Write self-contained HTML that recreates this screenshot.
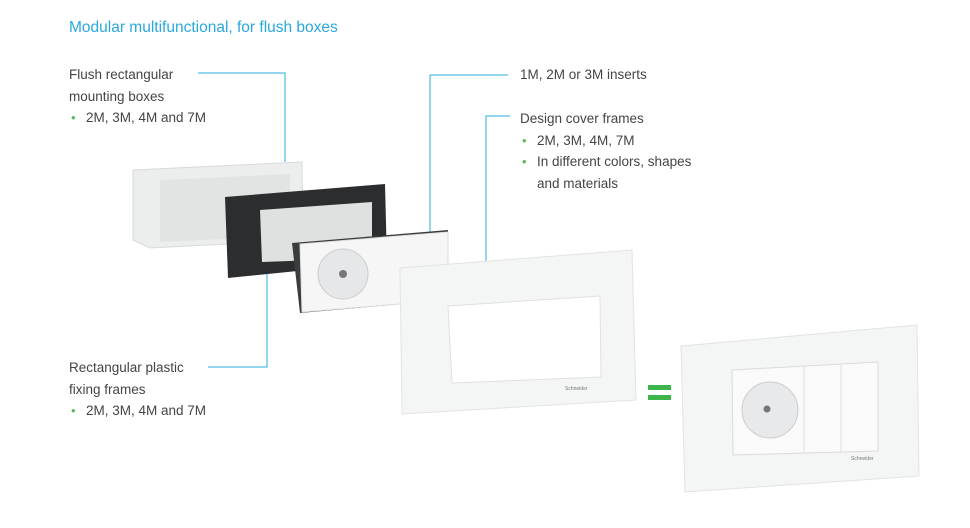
<!DOCTYPE html>
<html><head><style>
body{margin:0;width:970px;height:528px;background:#fff;font-family:"Liberation Sans",sans-serif;position:relative;overflow:hidden}
.t{position:absolute;font-size:13.5px;color:#444;line-height:21.5px;white-space:nowrap}
.t div{height:21.5px}
.g{color:#5cb85c;display:inline-block;width:17px;padding-left:2px;box-sizing:border-box;font-size:13px;line-height:21.5px;vertical-align:top}
</style></head><body>
<div class="t" style="left:69px;top:17px;font-size:15.5px;color:#2aa8dc">Modular multifunctional, for flush boxes</div>
<div class="t" style="left:69px;top:64px"><div>Flush rectangular</div><div>mounting boxes</div><div><span class="g">•</span>2M, 3M, 4M and 7M</div></div>
<div class="t" style="left:520px;top:64px">1M, 2M or 3M inserts</div>
<div class="t" style="left:520px;top:108px"><div>Design cover frames</div><div><span class="g">•</span>2M, 3M, 4M, 7M</div><div><span class="g">•</span>In different colors, shapes</div><div><span style="margin-left:17px">and materials</span></div></div>
<div class="t" style="left:69px;top:357px"><div>Rectangular plastic</div><div>fixing frames</div><div><span class="g">•</span>2M, 3M, 4M and 7M</div></div>
<svg width="970" height="528" style="position:absolute;left:0;top:0">
<g stroke="#29abe2" stroke-width="1" fill="none">
<polyline points="198,73 285,73 285,162"/>
<polyline points="508,75 430,75 430,236"/>
<polyline points="510,116 486,116 486,270"/>
<polyline points="208,367 267,367 267,272"/>
</g>
<polygon points="133,170 302,162 303,240 150,248 133,240" fill="#eceeee" stroke="#d8dada"/>
<polygon points="160,180 290,174 290,236 160,242" fill="#e2e4e4"/>
<polygon points="225,197 385,184 387,262 228,278" fill="#2b2d2f"/>
<polygon points="260,210 372,202 372,258 262,262" fill="#dfe1e1"/>
<polygon points="292,243 448,230 448,300 300,313" fill="#3a3c3e"/>
<polygon points="300,244 448,232 448,300 302,312" fill="#f6f6f6" stroke="#ddd"/>
<circle cx="343" cy="274" r="25" fill="#e6e7e8" stroke="#ccc"/>
<circle cx="343" cy="274" r="4" fill="#777"/>
<polygon points="400,268 632,250 636,400 402,414" fill="#f4f5f5" stroke="#e2e3e3"/>
<polygon points="448,306 600,296 601,377 452,383" fill="#fff" stroke="#e0e0e0"/>
<text x="565" y="390" font-size="5" fill="#777" font-family="Liberation Sans">Schneider</text>
<rect x="648" y="385" width="23" height="5" fill="#3db54a"/>
<rect x="648" y="395" width="23" height="5" fill="#3db54a"/>
<polygon points="681,346 917,325 919,476 685,492" fill="#f4f5f5" stroke="#e2e3e3"/>
<polygon points="732,370 878,362 878,451 733,455" fill="#fafafa" stroke="#dadada"/>
<line x1="804" y1="367" x2="804" y2="453" stroke="#ddd"/>
<line x1="841" y1="365" x2="841" y2="452" stroke="#ddd"/>
<circle cx="770" cy="410" r="28" fill="#e8e9ea" stroke="#ccc"/>
<circle cx="767" cy="409" r="3.5" fill="#777"/>
<text x="851" y="460" font-size="5" fill="#777" font-family="Liberation Sans">Schneider</text>
</svg>
</body></html>
